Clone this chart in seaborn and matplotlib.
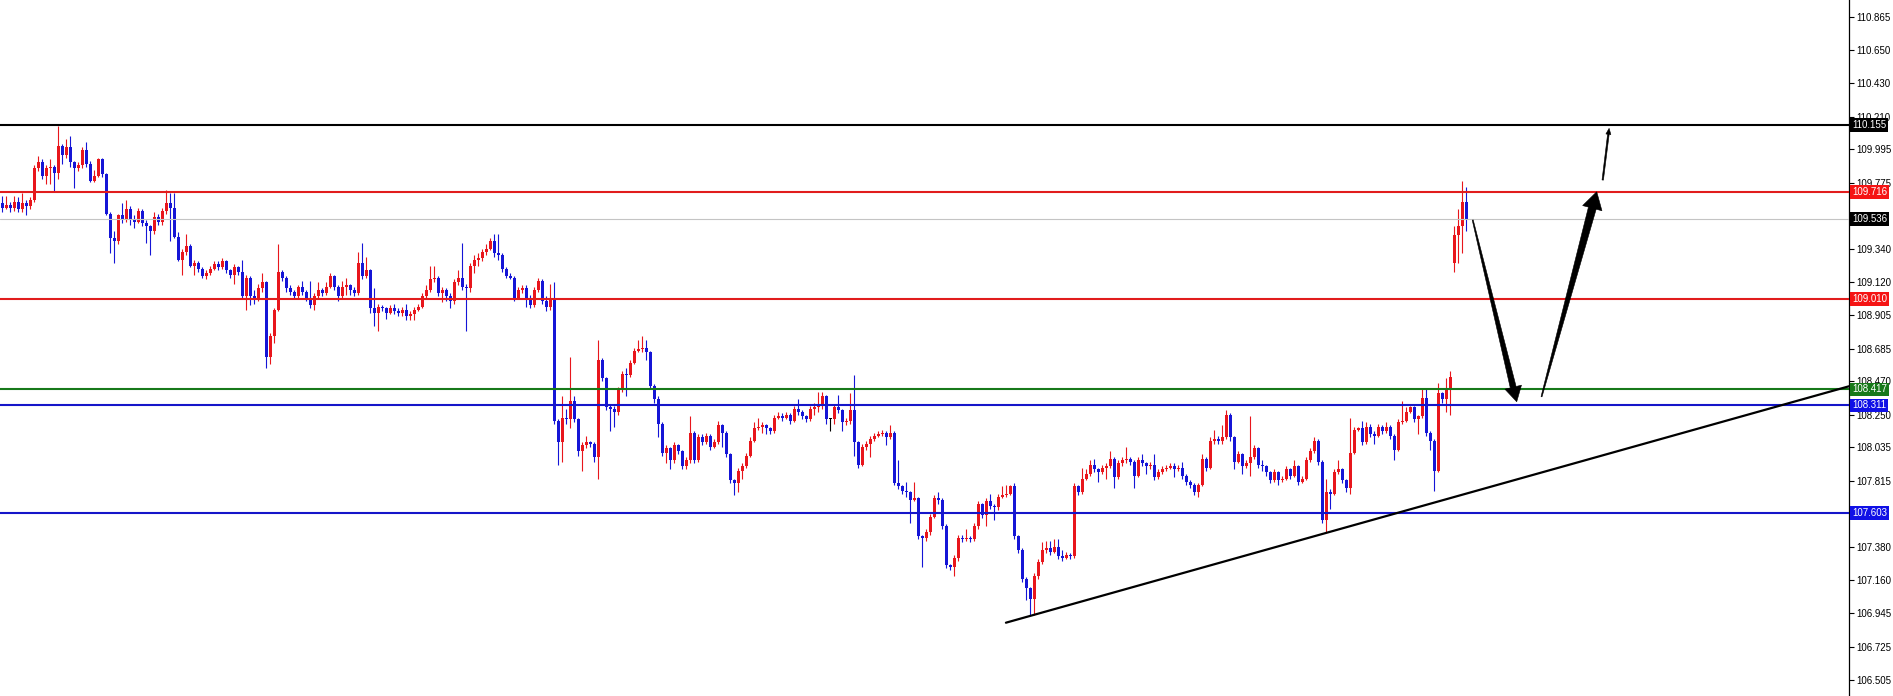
import numpy as np
import matplotlib
matplotlib.use("Agg")
import matplotlib.pyplot as plt
from matplotlib.patches import Polygon
from matplotlib.transforms import IdentityTransform
import seaborn as sns

# candle closes, one per bar (open = previous close)
closes = [
    109.61, 109.63, 109.61, 109.65, 109.60, 109.64, 109.62, 109.66, 109.87, 109.91,
    109.82, 109.87, 109.88, 109.84, 110.02, 109.96, 110.01, 109.91, 109.87, 109.89,
    109.99, 109.90, 109.79, 109.82, 109.93, 109.83, 109.57, 109.41, 109.39, 109.56,
    109.53, 109.60, 109.53, 109.52, 109.59, 109.51, 109.49, 109.46, 109.55, 109.52,
    109.59, 109.64, 109.61, 109.42, 109.27, 109.32, 109.36, 109.23, 109.25, 109.21,
    109.16, 109.18, 109.21, 109.24, 109.22, 109.26, 109.20, 109.17, 109.22, 109.19,
    109.03, 109.15, 109.03, 109.02, 109.08, 109.12, 108.63, 108.77, 108.94, 109.19,
    109.15, 109.08, 109.06, 109.03, 109.09, 109.06, 109.02, 108.97, 109.03, 109.07,
    109.05, 109.09, 109.16, 109.09, 109.03, 109.09, 109.10, 109.07, 109.05, 109.25,
    109.16, 109.20, 108.95, 108.92, 108.96, 108.95, 108.92, 108.95, 108.93, 108.92,
    108.94, 108.90, 108.91, 108.94, 108.96, 109.03, 109.07, 109.14, 109.15, 109.05,
    109.07, 109.03, 109.00, 109.12, 109.15, 109.09, 109.08, 109.23, 109.27, 109.28,
    109.32, 109.34, 109.39, 109.31, 109.30, 109.21, 109.16, 109.15, 109.02, 109.07,
    109.08, 109.02, 108.97, 109.07, 109.13, 109.00, 108.96, 109.01, 108.21, 108.07,
    108.23, 108.22, 108.34, 108.22, 108.01, 108.05, 108.07, 108.06, 107.97, 108.61,
    108.49, 108.30, 108.29, 108.27, 108.41, 108.52, 108.51, 108.59, 108.67, 108.68,
    108.69, 108.66, 108.44, 108.35, 108.19, 108.00, 108.03, 107.95, 108.05, 108.01,
    107.91, 107.95, 108.13, 107.95, 108.10, 108.07, 108.11, 108.04, 108.07, 108.18,
    108.13, 107.99, 107.82, 107.80, 107.88, 107.91, 107.98, 108.08, 108.16, 108.17,
    108.18, 108.16, 108.14, 108.23, 108.24, 108.23, 108.25, 108.21, 108.29, 108.27,
    108.24, 108.22, 108.29, 108.30, 108.31, 108.37, 108.22, 108.22, 108.30, 108.28,
    108.20, 108.21, 108.28, 108.07, 107.92, 108.04, 108.06, 108.09, 108.11, 108.12,
    108.13, 108.10, 108.13, 107.80, 107.78, 107.75, 107.74, 107.69, 107.70, 107.45,
    107.44, 107.48, 107.58, 107.70, 107.69, 107.52, 107.26, 107.25, 107.31, 107.44,
    107.43, 107.44, 107.43, 107.52, 107.66, 107.59, 107.68, 107.65, 107.64, 107.71,
    107.72, 107.73, 107.78, 107.45, 107.36, 107.17, 107.11, 107.04, 107.19, 107.28,
    107.36, 107.37, 107.35, 107.38, 107.32, 107.31, 107.33, 107.32, 107.78, 107.74,
    107.83, 107.86, 107.92, 107.89, 107.87, 107.90, 107.91, 107.96, 107.84, 107.93,
    107.95, 107.96, 107.94, 107.85, 107.95, 107.93, 107.91, 107.92, 107.84, 107.87,
    107.89, 107.90, 107.91, 107.89, 107.90, 107.85, 107.81, 107.79, 107.74, 107.79,
    107.96, 107.90, 108.08, 108.09, 108.08, 108.10, 108.25, 108.10, 107.94, 107.99,
    107.91, 107.93, 107.97, 108.03, 107.92, 107.91, 107.87, 107.82, 107.87, 107.82,
    107.83, 107.89, 107.85, 107.91, 107.81, 107.83, 107.95, 108.01, 108.08, 107.94,
    107.56, 107.74, 107.73, 107.87, 107.89, 107.82, 107.77, 108.00, 108.15, 108.16,
    108.07, 108.17, 108.12, 108.11, 108.17, 108.14, 108.17, 108.11, 108.02, 108.20,
    108.21, 108.27, 108.30, 108.22, 108.24, 108.36, 108.13, 108.08, 107.88, 108.39,
    108.35, 108.42, 108.50, 109.43, 109.49, 109.65, 109.54,
]

highs = [
    109.69, 109.69, 109.65, 109.69, 109.68, 109.71, 109.66, 109.68, 109.89, 109.95,
    109.93, 109.89, 109.93, 109.89, 110.15, 110.03, 110.06, 110.08, 109.92, 109.91,
    110.01, 110.04, 109.92, 109.86, 109.94, 109.94, 109.84, 109.58, 109.46, 109.57,
    109.64, 109.66, 109.62, 109.56, 109.61, 109.60, 109.53, 109.50, 109.58, 109.57,
    109.61, 109.73, 109.71, 109.71, 109.45, 109.34, 109.44, 109.37, 109.27, 109.26,
    109.22, 109.20, 109.23, 109.26, 109.26, 109.28, 109.27, 109.21, 109.24, 109.23,
    109.27, 109.17, 109.16, 109.07, 109.11, 109.18, 109.13, 108.79, 108.95, 109.37,
    109.20, 109.16, 109.10, 109.07, 109.10, 109.13, 109.07, 109.13, 109.05, 109.12,
    109.08, 109.12, 109.18, 109.17, 109.10, 109.13, 109.15, 109.11, 109.09, 109.32,
    109.38, 109.29, 109.21, 109.08, 108.98, 108.97, 108.96, 108.97, 108.98, 108.95,
    108.96, 108.98, 108.93, 108.96, 108.98, 109.05, 109.10, 109.23, 109.23, 109.16,
    109.09, 109.08, 109.05, 109.14, 109.20, 109.38, 109.11, 109.25, 109.30, 109.31,
    109.34, 109.37, 109.41, 109.44, 109.44, 109.31, 109.22, 109.18, 109.16, 109.09,
    109.10, 109.10, 109.04, 109.09, 109.15, 109.14, 109.03, 109.11, 109.12, 108.22,
    108.37, 108.29, 108.63, 108.37, 108.23, 108.07, 108.11, 108.08, 108.07, 108.74,
    108.62, 108.50, 108.32, 108.31, 108.43, 108.54, 108.56, 108.61, 108.69, 108.74,
    108.77, 108.74, 108.67, 108.45, 108.37, 108.20, 108.05, 108.04, 108.07, 108.06,
    108.02, 107.97, 108.24, 108.14, 108.12, 108.12, 108.13, 108.12, 108.09, 108.21,
    108.19, 108.14, 108.00, 107.83, 107.90, 107.93, 108.00, 108.10, 108.20, 108.23,
    108.20, 108.19, 108.17, 108.25, 108.27, 108.26, 108.27, 108.26, 108.31, 108.35,
    108.28, 108.25, 108.31, 108.33, 108.40, 108.40, 108.38, 108.23, 108.32, 108.38,
    108.29, 108.23, 108.39, 108.51, 108.08, 108.06, 108.08, 108.11, 108.13, 108.14,
    108.15, 108.14, 108.18, 108.14, 107.95, 107.79, 107.81, 107.75, 107.81, 107.71,
    107.46, 107.50, 107.60, 107.72, 107.74, 107.70, 107.53, 107.27, 107.33, 107.46,
    107.46, 107.50, 107.45, 107.54, 107.68, 107.67, 107.70, 107.73, 107.66, 107.73,
    107.78, 107.79, 107.79, 107.80, 107.46, 107.37, 107.18, 107.12, 107.21, 107.30,
    107.41, 107.42, 107.42, 107.43, 107.43, 107.36, 107.35, 107.34, 107.80, 107.79,
    107.90, 107.89, 107.95, 107.96, 107.90, 107.92, 107.93, 108.01, 107.97, 107.95,
    107.97, 108.04, 107.97, 107.95, 107.97, 107.99, 107.94, 107.94, 107.99, 107.89,
    107.91, 107.92, 107.93, 107.93, 107.92, 107.94, 107.86, 107.82, 107.80, 107.80,
    107.99, 107.97, 108.10, 108.15, 108.11, 108.18, 108.28, 108.26, 108.11, 108.01,
    108.00, 107.95, 108.24, 108.05, 108.04, 107.95, 107.92, 107.88, 107.89, 107.88,
    107.85, 107.91, 107.90, 107.95, 107.92, 107.85, 107.97, 108.03, 108.10, 108.09,
    107.95, 107.83, 107.76, 107.89, 107.95, 107.90, 107.83, 108.23, 108.17, 108.17,
    108.21, 108.20, 108.19, 108.14, 108.19, 108.18, 108.20, 108.18, 108.12, 108.22,
    108.34, 108.30, 108.31, 108.31, 108.25, 108.42, 108.42, 108.14, 108.09, 108.46,
    108.40, 108.49, 108.54, 109.49, 109.60, 109.79, 109.75,
]

lows = [
    109.58, 109.60, 109.58, 109.59, 109.58, 109.58, 109.56, 109.60, 109.65, 109.85,
    109.80, 109.77, 109.77, 109.72, 109.80, 109.90, 109.94, 109.88, 109.74, 109.85,
    109.87, 109.88, 109.78, 109.78, 109.81, 109.81, 109.56, 109.31, 109.25, 109.37,
    109.51, 109.52, 109.50, 109.48, 109.51, 109.49, 109.38, 109.30, 109.44, 109.50,
    109.50, 109.57, 109.39, 109.41, 109.26, 109.17, 109.30, 109.22, 109.17, 109.19,
    109.15, 109.14, 109.17, 109.20, 109.20, 109.21, 109.18, 109.15, 109.11, 109.17,
    109.01, 108.94, 108.97, 108.98, 109.00, 109.06, 108.56, 108.58, 108.72, 108.93,
    109.13, 109.06, 109.04, 109.01, 109.02, 109.04, 109.00, 108.95, 108.94, 109.02,
    109.03, 109.04, 109.08, 109.07, 109.00, 109.02, 109.04, 109.04, 109.03, 109.04,
    109.14, 109.15, 108.92, 108.83, 108.80, 108.93, 108.88, 108.91, 108.91, 108.90,
    108.90, 108.87, 108.87, 108.87, 108.93, 108.95, 109.02, 109.06, 109.12, 109.03,
    108.99, 109.00, 108.95, 108.98, 109.10, 109.07, 108.80, 109.06, 109.18, 109.23,
    109.26, 109.30, 109.33, 109.29, 109.27, 109.19, 109.15, 109.14, 109.00, 109.01,
    109.05, 108.96, 108.95, 108.96, 109.06, 108.98, 108.93, 108.94, 108.19, 107.92,
    107.94, 108.19, 108.16, 108.20, 107.98, 107.88, 108.03, 108.04, 107.94, 107.83,
    108.47, 108.28, 108.14, 108.17, 108.25, 108.40, 108.37, 108.50, 108.58, 108.66,
    108.66, 108.61, 108.42, 108.33, 108.10, 107.98, 107.93, 107.89, 107.93, 107.99,
    107.89, 107.89, 107.93, 107.93, 107.94, 108.05, 108.06, 108.02, 108.03, 108.06,
    108.04, 107.97, 107.80, 107.72, 107.74, 107.83, 107.90, 107.97, 108.07, 108.15,
    108.13, 108.12, 108.12, 108.13, 108.22, 108.21, 108.22, 108.19, 108.20, 108.25,
    108.22, 108.20, 108.21, 108.25, 108.27, 108.29, 108.19, 108.14, 108.19, 108.26,
    108.14, 108.18, 108.19, 107.98, 107.90, 107.91, 108.02, 107.97, 108.08, 108.10,
    108.11, 108.05, 108.09, 107.79, 107.76, 107.73, 107.71, 107.54, 107.68, 107.43,
    107.25, 107.42, 107.46, 107.57, 107.66, 107.50, 107.24, 107.23, 107.19, 107.29,
    107.41, 107.42, 107.41, 107.42, 107.50, 107.57, 107.52, 107.63, 107.56, 107.62,
    107.70, 107.71, 107.72, 107.43, 107.34, 107.15, 107.03, 106.93, 106.93, 107.17,
    107.27, 107.34, 107.33, 107.34, 107.30, 107.29, 107.30, 107.30, 107.31, 107.72,
    107.73, 107.82, 107.85, 107.87, 107.81, 107.86, 107.83, 107.90, 107.77, 107.83,
    107.91, 107.93, 107.92, 107.77, 107.84, 107.91, 107.86, 107.89, 107.82, 107.83,
    107.86, 107.88, 107.89, 107.84, 107.88, 107.83, 107.79, 107.77, 107.72, 107.71,
    107.78, 107.88, 107.89, 108.06, 108.06, 108.06, 108.09, 108.08, 107.89, 107.93,
    107.86, 107.90, 107.85, 107.96, 107.90, 107.88, 107.85, 107.80, 107.81, 107.79,
    107.81, 107.82, 107.83, 107.84, 107.79, 107.80, 107.82, 107.94, 108.00, 107.92,
    107.54, 107.48, 107.63, 107.72, 107.86, 107.80, 107.74, 107.73, 107.99, 108.14,
    108.05, 108.06, 108.10, 108.06, 108.10, 108.12, 108.13, 108.09, 107.95, 108.01,
    108.19, 108.20, 108.26, 108.20, 108.12, 108.23, 108.11, 108.02, 107.75, 107.87,
    108.33, 108.27, 108.25, 109.19, 109.25, 109.31, 109.46,
]

opens = [109.64] + closes[:-1]
opens[363] = 109.25  # weekend gap open

# horizontal levels and their right-hand price boxes
levels = [110.155, 109.716, 109.536, 109.010, 108.417, 108.311, 107.603]
level_colors = ["black", "#e11d1d", "#c4c4c4", "#e11d1d", "#17791a", "#1515c9", "#1515c9"]
level_widths = [1.5, 1.5, 0.8, 1.5, 1.5, 1.5, 1.5]
box_colors = ["black", "#f51414", "black", "#f51414", "#17791a", "#1010e6", "#1010e6"]

ytick_values = [110.865, 110.650, 110.430, 110.210, 109.995, 109.775, 109.340,
                109.120, 108.905, 108.685, 108.470, 108.250, 108.035, 107.815,
                107.380, 107.160, 106.945, 106.725, 106.505]

# support trendline (bar index, price)
trend_x = [250.9, 461.7]
trend_y = [106.882, 108.437]

# forecast arrows: (bar index, price) start -> tip
arrow_down = [(367.6, 109.53), (378.6, 108.335)]
arrow_up = [(384.8, 108.368), (398.6, 109.716)]
arrow_thin = [(400.1, 109.793), (401.7, 110.133)]

sns.set_theme(style="white")
plt.rcParams["font.family"] = ["Liberation Sans", "DejaVu Sans"]

fig = plt.figure(figsize=(18.93, 6.96), dpi=100)
ax = fig.add_axes([0, 0, 1849 / 1893, 1])
ax.set_facecolor("white")

idx = np.arange(len(closes))
o = np.array(opens)
c = np.array(closes)
colors = np.where(c > o, "#e8161c", np.where(c < o, "#1515d6", "black"))

ax.vlines(idx, lows, highs, colors=colors, lw=0.8, zorder=3)
body = np.maximum(np.abs(c - o), 0.005)
ax.bar(idx, body, bottom=np.minimum(o, c), width=0.72, color=colors,
       linewidth=0, zorder=3)

for lvl, col, lw in zip(levels, level_colors, level_widths):
    ax.axhline(lvl, color=col, lw=lw, zorder=4)

sns.lineplot(x=trend_x, y=trend_y, ax=ax, color="black", lw=1.6, zorder=5)

ax.set_xlim(-0.583, 461.67)
ax.set_ylim(106.40, 110.977)


def tapered_arrow(pts, w0, w1, head_w, head_len):
    s = ax.transData.transform(pts[0])
    t = ax.transData.transform(pts[1])
    u = (t - s) / np.hypot(*(t - s))
    n = np.array([-u[1], u[0]])
    b = t - u * head_len
    poly = [s + n * w0 / 2, b + n * w1 / 2, b + n * head_w / 2, t,
            b - n * head_w / 2, b - n * w1 / 2, s - n * w0 / 2]
    ax.add_patch(Polygon(poly, closed=True, transform=IdentityTransform(),
                         fc="black", ec="black", lw=0.4, zorder=7))


tapered_arrow(arrow_down, 1.0, 6.0, 17, 15)
tapered_arrow(arrow_up, 1.0, 8.0, 20, 17)
tapered_arrow(arrow_thin, 1.4, 1.6, 5, 6)

ax.set_xticks([])
ax.set_yticks(ytick_values)
ax.set_yticklabels([f"{v:.3f}" for v in ytick_values])
ax.tick_params(axis="y", which="both", left=False, right=True, labelleft=False,
               labelright=True, direction="out", length=3.5, width=0.8,
               color="black", labelsize=7, pad=1.5, labelcolor="black")
for side in ["left", "top", "bottom"]:
    ax.spines[side].set_visible(False)
ax.spines["right"].set_color("black")
ax.spines["right"].set_linewidth(0.9)

for lvl, bc in zip(levels, box_colors):
    ax.text(1.0016, lvl, f"{lvl:.3f}", transform=ax.get_yaxis_transform(),
            ha="left", va="center", color="white", fontsize=7,
            bbox=dict(boxstyle="square,pad=0.18", fc=bc, ec="none"),
            clip_on=False, zorder=8)

fig.savefig("out.png", dpi=100)
